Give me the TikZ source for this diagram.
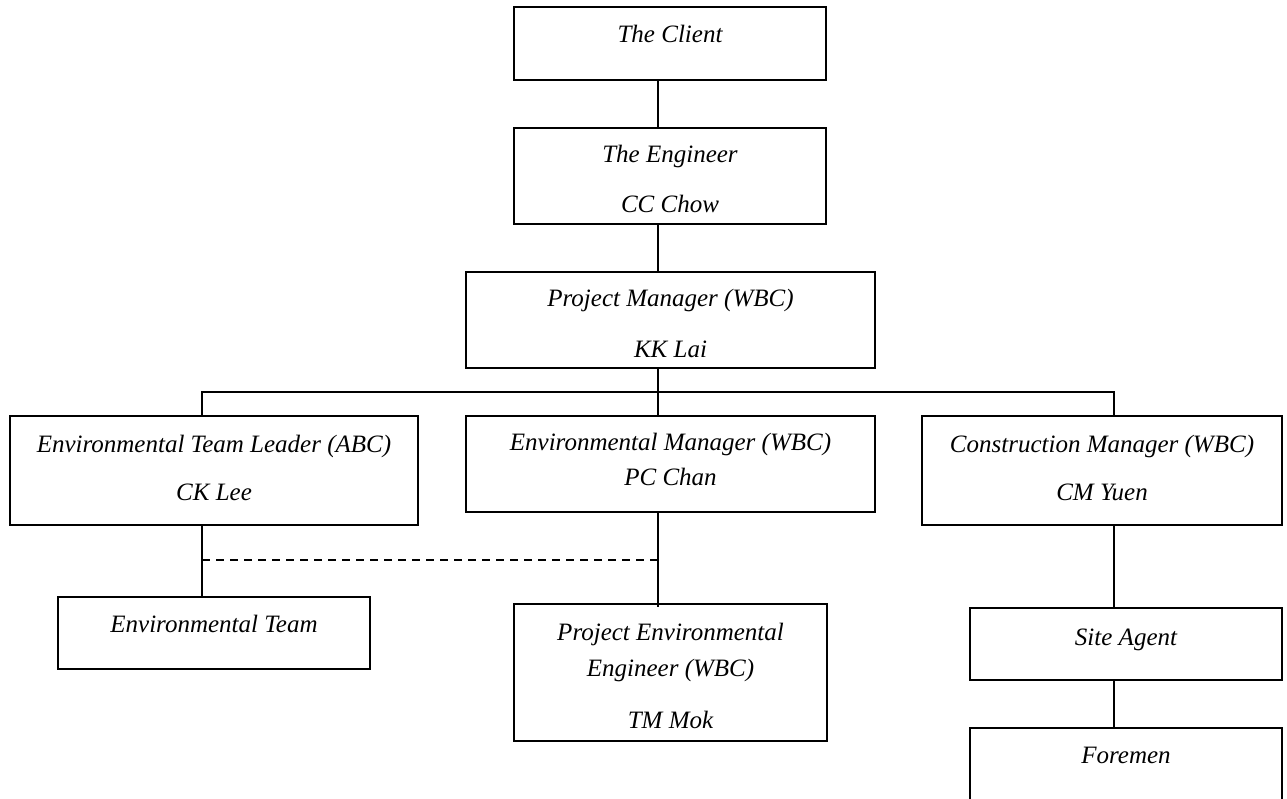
\documentclass[tikz,border=0pt]{standalone}
\usepackage{fontspec}
\setmainfont{Liberation Serif}
\begin{document}
\begin{tikzpicture}[x=1pt,y=-1pt,
  box/.style={draw=black,line width=2pt,rectangle,inner sep=0pt,fill=white},
  lbl/.style={anchor=base,inner sep=0pt,font=\fontsize{25}{30}\selectfont\itshape},
  link/.style={line width=2pt},
  dashlink/.style={line width=2pt,dash pattern=on 8pt off 6pt}]
\useasboundingbox (0,0) rectangle (1287,799);
\clip (0,0) rectangle (1287,799);
\fill[white] (0,0) rectangle (1287,799);
\coordinate (spine) at (658,0);
\coordinate (leftbus) at (202,0);
\coordinate (rightbus) at (1114,0);
\coordinate (busy) at (0,392);
\coordinate (dashy) at (0,560);
% boxes
\node[box,minimum width=312pt,minimum height=73pt] (client) at (670,43.5) {};
\node[box,minimum width=312pt,minimum height=96pt] (eng) at (670,176) {};
\node[box,minimum width=409pt,minimum height=96pt] (pm) at (670.5,320) {};
\node[box,minimum width=408pt,minimum height=109pt] (etl) at (214,470.5) {};
\node[box,minimum width=409pt,minimum height=96pt] (em) at (670.5,464) {};
\node[box,minimum width=360pt,minimum height=109pt] (cm) at (1102,470.5) {};
\node[box,minimum width=312pt,minimum height=72pt] (envteam) at (214,633) {};
\node[box,minimum width=313pt,minimum height=137pt] (pee) at (670.5,672.5) {};
\node[box,minimum width=312pt,minimum height=72pt] (site) at (1126,644) {};
\node[box,minimum width=312pt,minimum height=92pt] (foremen) at (1126,774) {};
% connectors
\draw[link] (client.south -| spine) -- (eng.north -| spine);
\draw[link] (eng.south -| spine) -- (pm.north -| spine);
\draw[link] (pm.south -| spine) -- (busy -| spine);
\draw[link] (etl.north -| leftbus) -- (busy -| leftbus) -- (busy -| rightbus) -- (cm.north -| rightbus);
\draw[link] (busy -| spine) -- (em.north -| spine);
\draw[link] (etl.south -| leftbus) -- (envteam.north -| leftbus);
\draw[dashlink] (dashy -| leftbus) -- (dashy -| spine);
\draw[link] (em.south -| spine) -- ([yshift=-4pt]pee.north -| spine);
\draw[link] (cm.south -| rightbus) -- (site.north -| rightbus);
\draw[link] (site.south -| rightbus) -- (foremen.north -| rightbus);
% labels
\node[lbl] (tclient) at (670,43) {The Client};
\node[lbl] (teng1) at (670,163) {The Engineer};
\node[lbl] (teng2) at (670,213) {CC Chow};
\node[lbl] (tpm1) at (670.5,307) {Project Manager (WBC)};
\node[lbl] (tpm2) at (670.5,357) {KK Lai};
\node[lbl] (tetl1) at (214,452) {Environmental Team Leader (ABC)};
\node[lbl] (tetl2) at (214,500) {CK Lee};
\node[lbl] (tem1) at (670.5,450) {Environmental Manager (WBC)};
\node[lbl] (tem2) at (670.5,485) {PC Chan};
\node[lbl] (tcm1) at (1102,452) {Construction Manager (WBC)};
\node[lbl] (tcm2) at (1102,500) {CM Yuen};
\node[lbl] (tenv) at (214,632) {Environmental Team};
\node[lbl] (tpee1) at (670.5,640) {Project Environmental};
\node[lbl] (tpee2) at (670.5,676) {Engineer (WBC)};
\node[lbl] (tpee3) at (670.5,728) {TM Mok};
\node[lbl] (tsite) at (1126,645) {Site Agent};
\node[lbl] (tfore) at (1126,763) {Foremen};
\end{tikzpicture}
\end{document}
